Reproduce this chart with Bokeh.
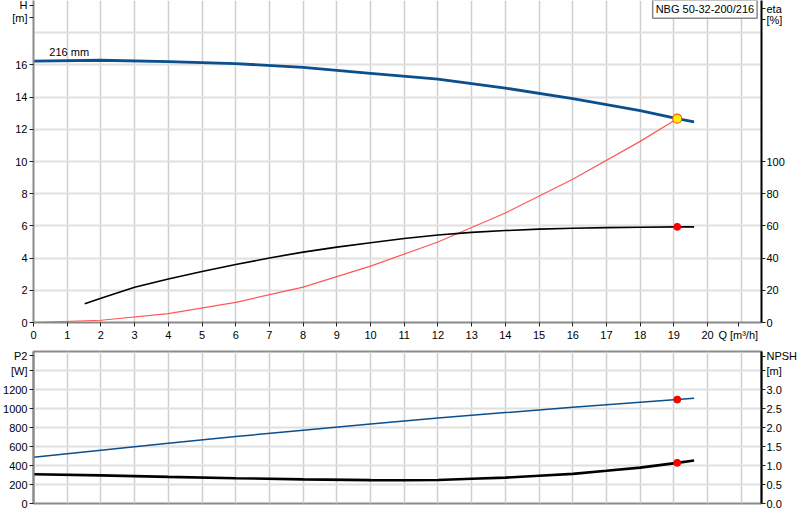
from bokeh.plotting import figure
from bokeh.layouts import column
from bokeh.models import Range1d, LinearAxis, FixedTicker, Label, PrintfTickFormatter
from bokeh.embed import file_html
from bokeh.resources import INLINE

# Q/H curve (216 mm impeller)
q_h = [0, 2, 4, 6, 8, 10, 12, 14, 16, 18, 19.1, 19.6]
head = [16.24, 16.29, 16.2, 16.08, 15.85, 15.48, 15.11, 14.56, 13.9, 13.16, 12.66, 12.46]

# efficiency curve
q_eta = [1.52, 2, 3, 4, 5, 6, 7, 8, 9, 10, 11, 12, 13, 14, 15, 16, 17, 18, 19.1, 19.6]
eta = [11.7, 15.0, 21.9, 27.0, 31.7, 36.0, 40.1, 43.7, 46.8, 49.5, 52.2, 54.3, 56, 57.1, 58.0,
       58.5, 58.9, 59.2, 59.4, 59.4]

# system curve up to the duty point
q_sys = [0, 2, 4, 6, 8, 10, 12, 14, 16, 18, 19.1]
h_sys = [0, 0.14, 0.55, 1.25, 2.2, 3.5, 5.0, 6.8, 8.9, 11.25, 12.66]

# power input P2
q_p2 = [0, 2, 4, 6, 8, 10, 12, 14, 16, 18, 19.1, 19.6]
p2 = [486, 560, 633, 704, 772, 836, 900, 957, 1012, 1066, 1094, 1109]

# NPSH
q_npsh = [0, 2, 4, 6, 8, 10, 11, 12, 13, 14, 15, 16, 17, 18, 19.1, 19.6]
npsh = [0.77, 0.74, 0.70, 0.665, 0.635, 0.615, 0.61, 0.62, 0.65, 0.68, 0.73, 0.78, 0.86,
        0.945, 1.07, 1.13]

# duty point
duty_q = 19.1
duty_h = 12.66
duty_eta = 59.4
duty_p2 = 1094
duty_npsh = 1.07

q_ticks = list(range(0, 21))
h_ticks = [0, 2, 4, 6, 8, 10, 12, 14, 16]
eta_ticks = [0, 20, 40, 60, 80, 100]
p2_ticks = [0, 200, 400, 600, 800, 1000, 1200]
npsh_ticks = [0, 0.5, 1.0, 1.5, 2.0, 2.5, 3.0]

# axis captions, shown as extra tick labels at the ends of the axes
q_caption = {20.91: "Q [m\u00b3/h]"}
h_caption = {19.7: "H", 18.93: "[m]"}
eta_caption = {195: "eta", 188: "[%]"}
p2_caption = {1553: "P2", 1400: "[W]"}
npsh_caption = {3.88: "NPSH", 3.5: "[m]"}

FONT = "Liberation Sans"
BLUE = "#0b4f8c"


def style_axis(ax, line_color="#8a8a8a", standoff=2):
    ax.axis_line_color = line_color
    ax.axis_line_width = 2
    ax.major_tick_line_color = "#202020"
    ax.major_tick_out = 4
    ax.major_tick_in = 0
    ax.minor_tick_line_color = None
    ax.major_label_standoff = standoff
    ax.major_label_text_font = FONT
    ax.major_label_text_font_size = "11px"
    ax.major_label_text_color = "#000000"


def ticks_with(ticks, caption):
    return FixedTicker(ticks=list(ticks) + list(caption.keys()))


# ===== TOP: H / eta =====
top = figure(width=800, height=343, x_range=Range1d(0, 21.6), y_range=Range1d(0, 20),
             output_backend="svg", toolbar_location=None, tools="",
             min_border_left=32, min_border_right=37, min_border_top=0, min_border_bottom=19)
top.outline_line_color = None
top.extra_y_ranges = {"eta": Range1d(0, 200)}

top.xaxis.ticker = ticks_with(q_ticks, q_caption)
top.xaxis.major_label_overrides = q_caption
top.yaxis.ticker = ticks_with(h_ticks, h_caption)
top.yaxis.major_label_overrides = h_caption
style_axis(top.xaxis[0])
style_axis(top.yaxis[0])
eta_axis = LinearAxis(y_range_name="eta", ticker=ticks_with(eta_ticks, eta_caption),
                      major_label_overrides=eta_caption)
style_axis(eta_axis, line_color="#000000", standoff=1)
top.add_layout(eta_axis, "right")

top.xgrid.ticker = FixedTicker(ticks=list(range(1, 22)))
top.ygrid.ticker = FixedTicker(ticks=[2, 4, 6, 8, 10, 12, 14, 16, 18])
top.xgrid.grid_line_color = "#cfcfcf"
top.xgrid.grid_line_width = 1.5
top.ygrid.grid_line_color = "#e0e0e0"
top.ygrid.grid_line_width = 2

top.line(q_sys, h_sys, line_color="#ff3b3b", line_width=1.2, line_alpha=0.85)
top.line(q_eta, eta, line_color="#000000", line_width=1.6, y_range_name="eta")
top.line(q_h, head, line_color=BLUE, line_width=2.8)
top.scatter([duty_q], [duty_eta], size=7, fill_color="#ff0000", line_color="#ff0000",
            y_range_name="eta")
top.scatter([duty_q], [duty_h], size=9, fill_color="#ffee00", line_color="#ff5a00",
            line_width=1.2)

top.add_layout(Label(x=0.47, y=16.8, text="216 mm", text_align="left", text_baseline="middle",
                     text_font=FONT, text_font_size="11px", text_color="#000000"))
top.add_layout(Label(x=21.47, y=19.45, text="NBG 50-32-200/216", text_align="right",
                     text_baseline="middle", text_font=FONT, text_font_size="11px",
                     text_color="#000000", background_fill_color="white",
                     border_line_color="#8a8a8a", border_line_width=1.5, padding=3))

# ===== BOTTOM: P2 / NPSH =====
bot = figure(width=800, height=177, x_range=top.x_range, y_range=Range1d(0, 1600),
             output_backend="svg", toolbar_location=None, tools="",
             min_border_left=32, min_border_right=37, min_border_top=8, min_border_bottom=17)
bot.outline_line_color = "#8a8a8a"
bot.outline_line_width = 2
bot.extra_y_ranges = {"npsh": Range1d(0, 4)}
bot.xaxis.visible = False
bot.yaxis.ticker = ticks_with(p2_ticks, p2_caption)
bot.yaxis.major_label_overrides = p2_caption
style_axis(bot.yaxis[0])
npsh_axis = LinearAxis(y_range_name="npsh", ticker=ticks_with(npsh_ticks, npsh_caption),
                       formatter=PrintfTickFormatter(format="%.1f"),
                       major_label_overrides=npsh_caption)
style_axis(npsh_axis, line_color="#000000", standoff=1)
bot.add_layout(npsh_axis, "right")

bot.xgrid.ticker = FixedTicker(ticks=list(range(1, 22)))
bot.ygrid.ticker = FixedTicker(ticks=[200, 400, 600, 800, 1000, 1200, 1400])
bot.xgrid.grid_line_color = "#cfcfcf"
bot.xgrid.grid_line_width = 1.5
bot.ygrid.grid_line_color = "#e0e0e0"
bot.ygrid.grid_line_width = 2

bot.line(q_p2, p2, line_color=BLUE, line_width=1.5)
bot.line(q_npsh, npsh, line_color="#000000", line_width=2.6, y_range_name="npsh")
bot.scatter([duty_q], [duty_p2], size=7, fill_color="#ff0000", line_color="#ff0000")
bot.scatter([duty_q], [duty_npsh], size=7, fill_color="#ff0000", line_color="#ff0000",
            y_range_name="npsh")

layout = column(top, bot, spacing=0)

open("out.html", "w").write(file_html(layout, INLINE))
